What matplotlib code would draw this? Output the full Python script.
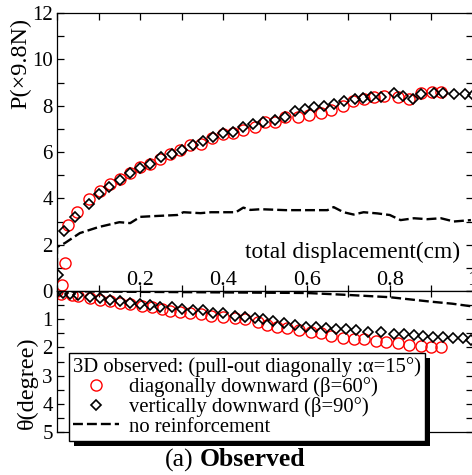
import numpy as np
import matplotlib
matplotlib.use('Agg')
import matplotlib.pyplot as plt
from matplotlib.ticker import MultipleLocator, FuncFormatter
from matplotlib.patches import Rectangle

plt.rcParams['font.family'] = ['Liberation Serif', 'DejaVu Serif']

# pull-out force P (x9.8N) vs total displacement (cm)
x_diag = [0.012, 0.019, 0.027, 0.048, 0.077, 0.104, 0.128, 0.152, 0.176, 0.200, 0.224, 0.248,
          0.272, 0.296, 0.320, 0.345, 0.373, 0.398, 0.424, 0.448, 0.477, 0.501, 0.525, 0.549,
          0.580, 0.605, 0.634, 0.658, 0.687, 0.711, 0.737, 0.761, 0.786, 0.819, 0.846, 0.875,
          0.901, 0.923]
p_diag = [0.25, 1.2, 2.84, 3.4, 3.97, 4.3, 4.6, 4.85, 5.1, 5.35, 5.5, 5.7,
          5.9, 6.1, 6.3, 6.35, 6.6, 6.77, 6.8, 6.97, 7.07, 7.28, 7.28, 7.5,
          7.5, 7.6, 7.7, 7.8, 8.0, 8.2, 8.28, 8.36, 8.4, 8.36, 8.28, 8.53,
          8.58, 8.58]

x_vert = [0.003, 0.017, 0.043, 0.077, 0.100, 0.125, 0.152, 0.176, 0.200, 0.224, 0.250, 0.277,
          0.300, 0.328, 0.352, 0.376, 0.400, 0.424, 0.446, 0.472, 0.496, 0.523, 0.547, 0.573,
          0.595, 0.617, 0.641, 0.665, 0.689, 0.716, 0.735, 0.754, 0.778, 0.810, 0.831, 0.855,
          0.875, 0.906, 0.928, 0.954, 0.980, 1.000]
p_vert = [0.7, 2.6, 3.2, 3.75, 4.2, 4.5, 4.8, 5.1, 5.3, 5.5, 5.8, 5.9,
          6.07, 6.3, 6.47, 6.65, 6.8, 6.85, 7.07, 7.2, 7.3, 7.4, 7.5, 7.76,
          7.84, 7.93, 8.0, 8.06, 8.2, 8.28, 8.33, 8.36, 8.36, 8.53, 8.4, 8.3,
          8.5, 8.53, 8.53, 8.5, 8.5, 8.45]

x_none = [0.0, 0.0, 0.019, 0.055, 0.10, 0.15, 0.176, 0.20, 0.23, 0.289, 0.304, 0.345,
          0.37, 0.43, 0.448, 0.465, 0.49, 0.55, 0.65, 0.665, 0.689, 0.713, 0.737, 0.77,
          0.80, 0.826, 0.858, 0.89, 0.923, 0.954, 0.995]
p_none = [1.0, 1.9, 2.07, 2.5, 2.76, 2.97, 2.93, 3.2, 3.23, 3.28, 3.4, 3.36,
          3.4, 3.4, 3.6, 3.5, 3.53, 3.49, 3.49, 3.62, 3.4, 3.3, 3.4, 3.35,
          3.28, 3.06, 3.14, 3.1, 3.14, 3.0, 3.06]

# rotation angle theta (degree)
xt_diag = [0.0, 0.01, 0.036, 0.05, 0.08, 0.104, 0.128, 0.152, 0.176, 0.205, 0.229, 0.253,
           0.272, 0.296, 0.32, 0.345, 0.369, 0.398, 0.429, 0.453, 0.482, 0.506, 0.530, 0.554,
           0.581, 0.610, 0.634, 0.658, 0.687, 0.713, 0.737, 0.766, 0.790, 0.819, 0.846, 0.875,
           0.899, 0.923]
th_diag = [0.0, 0.1, 0.14, 0.18, 0.25, 0.32, 0.35, 0.42, 0.46, 0.53, 0.57, 0.64,
           0.70, 0.74, 0.78, 0.82, 0.89, 0.92, 0.96, 0.99, 1.10, 1.21, 1.28, 1.31,
           1.38, 1.45, 1.49, 1.60, 1.67, 1.70, 1.70, 1.77, 1.81, 1.84, 1.91, 1.95,
           1.99, 1.99]

xt_vert = [0.0, 0.015, 0.031, 0.05, 0.08, 0.104, 0.128, 0.152, 0.176, 0.2, 0.224, 0.248,
           0.277, 0.301, 0.328, 0.352, 0.376, 0.4, 0.429, 0.453, 0.477, 0.496, 0.52, 0.545,
           0.573, 0.598, 0.622, 0.646, 0.67, 0.694, 0.718, 0.747, 0.778, 0.81, 0.834, 0.858,
           0.88, 0.904, 0.928, 0.952, 0.976, 0.995]
th_vert = [0.03, 0.07, 0.1, 0.14, 0.21, 0.25, 0.32, 0.35, 0.42, 0.46, 0.5, 0.57,
           0.57, 0.64, 0.67, 0.67, 0.78, 0.78, 0.89, 0.92, 0.96, 0.99, 1.06, 1.13,
           1.21, 1.28, 1.28, 1.31, 1.35, 1.35, 1.38, 1.45, 1.45, 1.52, 1.52, 1.56,
           1.6, 1.63, 1.63, 1.67, 1.67, 1.74]

xt_none = [0.0, 0.1, 0.2, 0.3, 0.4, 0.5, 0.6, 0.7, 0.8, 0.85, 0.9, 0.95, 1.0]
th_none = [0.0, 0.02, 0.03, 0.04, 0.05, 0.06, 0.07, 0.14, 0.22, 0.3, 0.38, 0.45, 0.55]

W, H = 472, 475
fig = plt.figure(figsize=(W / 100, H / 100), dpi=100)

left = 57 / W
right = 473 / W
ax1 = fig.add_axes([left, (H - 291) / H, right - left, 278 / H])
ax2 = fig.add_axes([left, (H - 432) / H, right - left, 141 / H])

circ = dict(ls='none', marker='o', ms=8, mfc='none', mec='red', mew=1.0)
diam = dict(ls='none', marker='D', ms=5.3, mfc='none', mec='black', mew=1.2)
dash = dict(color='black', lw=1.7, dashes=(4.2, 1.7))

ax1.plot(x_diag, p_diag, **circ)
ax1.plot(x_vert, p_vert, **diam)
ax1.plot(x_none, p_none, **dash)

h1, = ax2.plot(xt_diag, th_diag, **circ)
h2, = ax2.plot(xt_vert, th_vert, **diam)
h3, = ax2.plot(xt_none, th_none, **dash)

for ax in (ax1, ax2):
    ax.set_xlim(0, 1.0)
    for s in ax.spines.values():
        s.set_linewidth(0.9)
    ax.xaxis.set_major_locator(MultipleLocator(0.2))
    ax.xaxis.set_minor_locator(MultipleLocator(0.1))

ax1.set_ylim(0, 12)
ax1.set_yticks([2, 4, 6, 8, 10, 12])
ax1.yaxis.set_minor_locator(MultipleLocator(1))
ax1.tick_params(axis='y', which='both', direction='in', length=5, width=0.9,
                left=True, right=True, labelsize=15, pad=3)
ax1.tick_params(axis='x', which='both', direction='in', length=5, width=0.9,
                top=True, bottom=False, labelbottom=False)

ax2.set_ylim(5, 0)
ax2.yaxis.set_major_locator(MultipleLocator(1))
ax2.yaxis.set_minor_locator(MultipleLocator(0.5))
ax2.tick_params(axis='y', which='both', direction='in', length=5, width=0.9,
                left=True, right=True, labelsize=15, pad=3)
ax2.tick_params(axis='x', which='both', direction='inout', length=8, width=0.9,
                top=True, bottom=False, labeltop=True, labelbottom=False,
                labelsize=16, pad=-3)
ax2.xaxis.set_major_formatter(FuncFormatter(lambda v, p: '' if v < 0.01 else ('1' if abs(v - 1) < 1e-6 else f'{v:.1f}')))

ax1.text(0.969, 0.14, 'total displacement(cm)', transform=ax1.transAxes,
         ha='right', va='center', fontsize=16.8)

ax1.set_ylabel('P(\u00d79.8N)', fontsize=17.5)
ax1.yaxis.set_label_coords(-0.062, 0.817)
ax2.set_ylabel('\u03b8(degree)', fontsize=17.5)
ax2.yaxis.set_label_coords(-0.046, 0.348)

leg = ax2.legend([h1, h2, h3],
                 ['diagonally downward (\u03b2=60\u00b0)',
                  'vertically downward (\u03b2=90\u00b0)',
                  'no reinforcement'],
                 title='3D observed: (pull-out diagonally :\u03b1=15\u00b0)',
                 title_fontsize=14.9, fontsize=14.9, alignment='left',
                 loc='upper left', bbox_to_anchor=(0.029, 0.56), borderaxespad=0,
                 fancybox=False, framealpha=1, edgecolor='black',
                 handlelength=2.2, handletextpad=0.5, labelspacing=0.0,
                 borderpad=0.2)
leg.get_frame().set_linewidth(1.0)

fig.text(193 / W, 15 / H, '(a)', ha='right', va='center', fontsize=18.5)
fig.text(200 / W, 15 / H, 'Observed', ha='left', va='center', fontsize=18.5,
         fontweight='bold')

# black drop shadow behind the legend box
fig.canvas.draw()
bb = leg.get_window_extent()
shadow = Rectangle((bb.x0 + 5, bb.y0 - 5), bb.width, bb.height, transform=None,
                   facecolor='black', edgecolor='none', zorder=4.9, clip_on=False)
ax2.add_artist(shadow)

fig.savefig('out.png', dpi=100)
